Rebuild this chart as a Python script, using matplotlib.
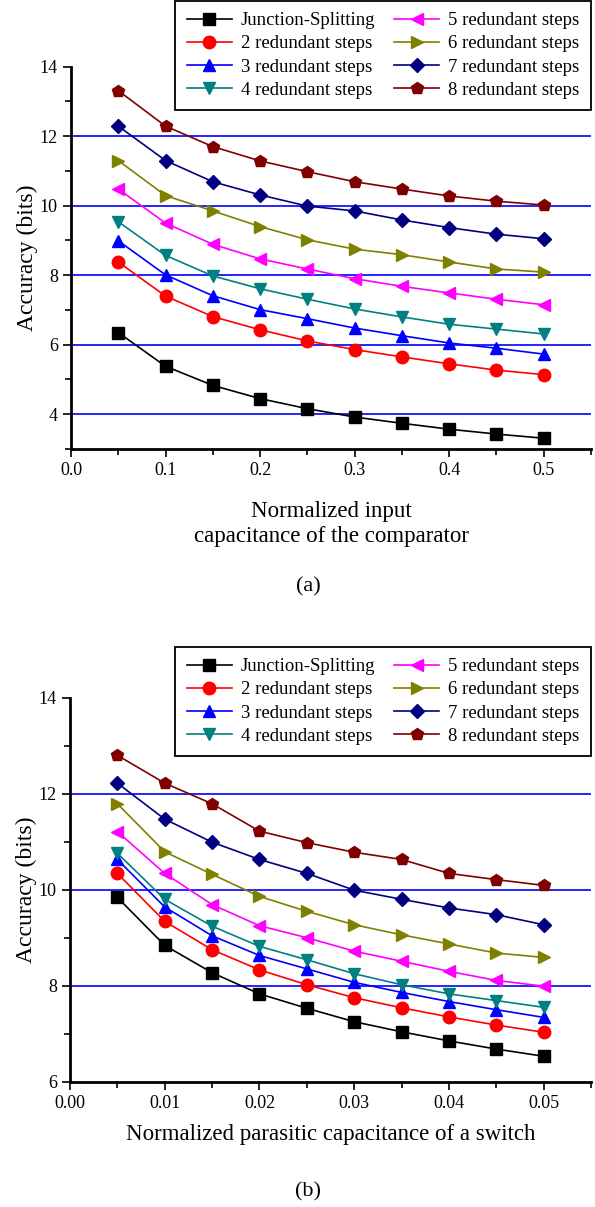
import numpy as np
import matplotlib
matplotlib.use("Agg")
import matplotlib.pyplot as plt
from matplotlib.ticker import MultipleLocator, FormatStrFormatter

plt.rcParams['font.family'] = ['Liberation Serif', 'DejaVu Serif']

# data
labels = ["Junction-Splitting", "2 redundant steps", "3 redundant steps", "4 redundant steps",
          "5 redundant steps", "6 redundant steps", "7 redundant steps", "8 redundant steps"]
colors = ["#000000", "#ff0000", "#0000ff", "#008080", "#ff00ff", "#808000", "#000080", "#800000"]
markers = ["s", "o", "^", "v", "<", ">", "D", "p"]

x_a = [0.05, 0.10, 0.15, 0.20, 0.25, 0.30, 0.35, 0.40, 0.45, 0.50]
acc_a = [
    [6.35, 5.38, 4.83, 4.45, 4.16, 3.92, 3.74, 3.57, 3.43, 3.31],
    [8.38, 7.40, 6.81, 6.43, 6.11, 5.86, 5.65, 5.45, 5.27, 5.14],
    [8.99, 8.01, 7.41, 7.01, 6.75, 6.48, 6.26, 6.05, 5.90, 5.73],
    [9.54, 8.57, 7.98, 7.61, 7.31, 7.03, 6.80, 6.59, 6.45, 6.31],
    [10.48, 9.50, 8.89, 8.47, 8.18, 7.90, 7.68, 7.49, 7.31, 7.15],
    [11.30, 10.29, 9.85, 9.40, 9.02, 8.75, 8.59, 8.38, 8.18, 8.09],
    [12.29, 11.30, 10.69, 10.31, 9.99, 9.85, 9.59, 9.37, 9.18, 9.05],
    [13.31, 12.29, 11.70, 11.29, 10.98, 10.69, 10.48, 10.28, 10.13, 10.02],
]

x_b = [0.005, 0.010, 0.015, 0.020, 0.025, 0.030, 0.035, 0.040, 0.045, 0.050]
acc_b = [
    [9.84, 8.84, 8.27, 7.83, 7.53, 7.25, 7.04, 6.85, 6.68, 6.53],
    [10.34, 9.34, 8.75, 8.33, 8.02, 7.75, 7.54, 7.35, 7.18, 7.03],
    [10.63, 9.64, 9.04, 8.63, 8.35, 8.07, 7.86, 7.67, 7.50, 7.34],
    [10.76, 9.80, 9.24, 8.82, 8.54, 8.25, 8.02, 7.83, 7.69, 7.55],
    [11.21, 10.34, 9.69, 9.25, 9.00, 8.72, 8.51, 8.30, 8.11, 7.99],
    [11.79, 10.79, 10.32, 9.86, 9.55, 9.27, 9.06, 8.87, 8.68, 8.59],
    [12.22, 11.47, 10.99, 10.63, 10.34, 9.99, 9.80, 9.62, 9.48, 9.27],
    [12.80, 12.22, 11.79, 11.22, 10.98, 10.78, 10.63, 10.34, 10.21, 10.09],
]

W, H = 595, 1207
fig = plt.figure(figsize=(W / 100, H / 100), dpi=100)

ax1 = fig.add_axes([71 / W, 1 - 449 / H, (591 - 71) / W, (449 - 66.7) / H])
ax2 = fig.add_axes([70 / W, 1 - 1081.7 / H, (591 - 70) / W, (1081.7 - 697.7) / H])


def style_axes(ax, ylim, xlim, xmaj, xmin, xfmt):
    ax.set_ylim(*ylim)
    ax.set_xlim(*xlim)
    ax.yaxis.set_major_locator(MultipleLocator(2))
    ax.yaxis.set_minor_locator(MultipleLocator(1))
    ax.xaxis.set_major_locator(MultipleLocator(xmaj))
    ax.xaxis.set_minor_locator(MultipleLocator(xmin))
    ax.xaxis.set_major_formatter(FormatStrFormatter(xfmt))
    for s in ["top", "right"]:
        ax.spines[s].set_visible(False)
    for s in ["left", "bottom"]:
        ax.spines[s].set_linewidth(2)
    ax.tick_params(which="major", direction="out", length=6, width=1.2, labelsize=13)
    ax.tick_params(which="minor", direction="out", length=4, width=1.2)
    ax.set_ylabel("Accuracy (bits)", fontsize=17, labelpad=1)
    # blue horizontal grid on the even values, not at the top edge
    for v in ax.get_yticks():
        if ylim[0] < v < ylim[1]:
            ax.axhline(v, color="#0000ff", lw=1.2, zorder=1)


def draw(ax, xs, ys):
    for lab, c, m, y in zip(labels, colors, markers, ys):
        ms = 7.5 if m == "D" else 9
        ax.plot(xs, y, color=c, marker=m, markersize=ms, lw=1.2, label=lab, zorder=3,
                markeredgecolor=c, markerfacecolor=c)


draw(ax1, x_a, acc_a)
style_axes(ax1, (3, 14), (0, 0.55), 0.1, 0.05, "%.1f")
ax1.set_xlabel("Normalized input\ncapacitance of the comparator", fontsize=16.5, labelpad=16,
               linespacing=1.25)

draw(ax2, x_b, acc_b)
style_axes(ax2, (6, 14), (0, 0.055), 0.01, 0.005, "%.2f")
ax2.set_xlabel("Normalized parasitic capacitance of a switch", fontsize=16.5, labelpad=9)

for ax, top in [(ax1, 1), (ax2, 647)]:
    leg = ax.legend(loc="upper right", bbox_to_anchor=(591 / W, 1 - top / H),
                    bbox_transform=fig.transFigure, ncol=2, fontsize=13.5,
                    frameon=True, fancybox=False, framealpha=1, edgecolor="black",
                    handlelength=2.4, columnspacing=1.0, labelspacing=0.32,
                    handletextpad=0.5, borderpad=0.6, borderaxespad=0)
    leg.get_frame().set_linewidth(1.3)

fig.text(308 / W, 1 - 587 / H, "(a)", ha="center", va="center", fontsize=16)
fig.text(308 / W, 1 - 1192 / H, "(b)", ha="center", va="center", fontsize=16)

fig.savefig("out.png", dpi=100)
